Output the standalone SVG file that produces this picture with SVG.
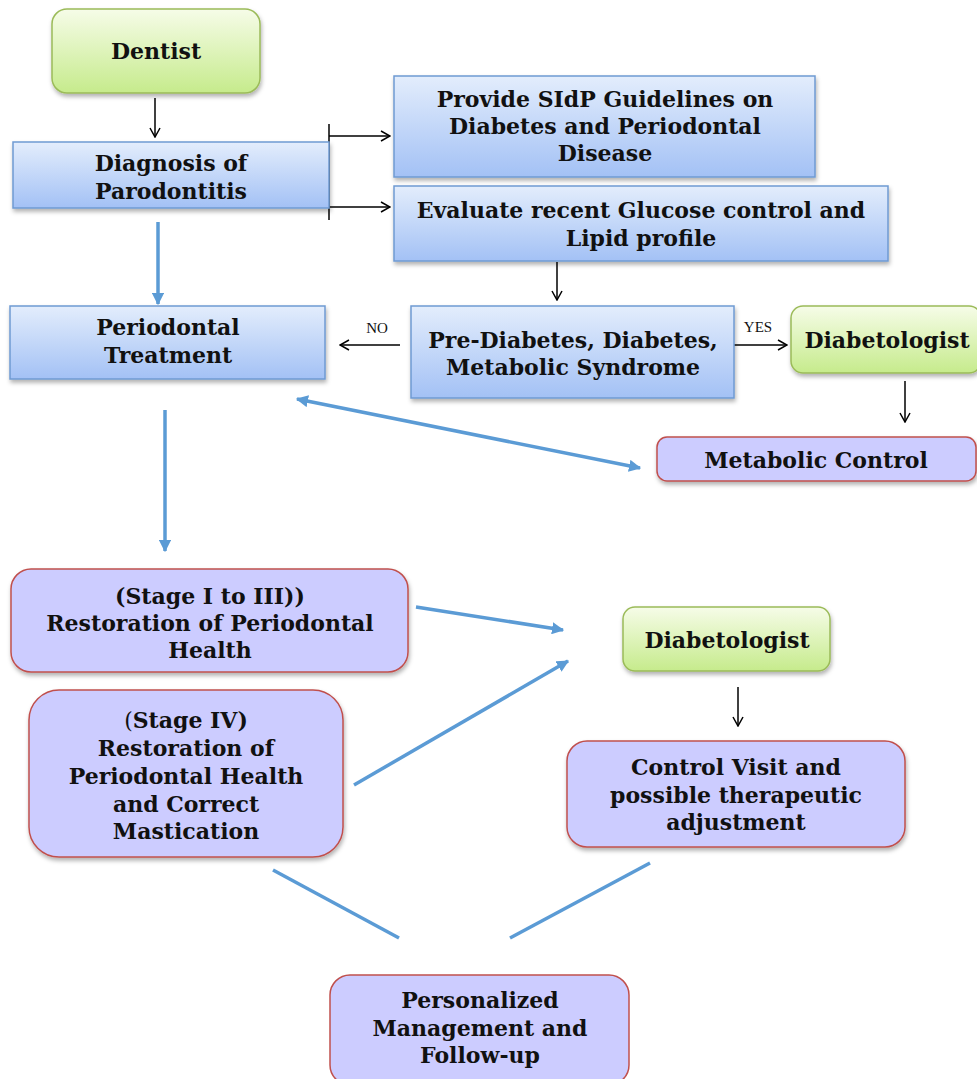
<svg xmlns="http://www.w3.org/2000/svg" width="977" height="1079" viewBox="0 0 977 1079">
<style>
.t{font-family:"DejaVu Serif","Liberation Serif",serif;font-weight:bold;font-size:22px;fill:#111;text-anchor:middle}
.lbl{font-family:"Liberation Serif",serif;font-size:15px;fill:#111;text-anchor:middle}
.blue{fill:url(#gb);stroke:#6f9ad2;stroke-width:1.5}
.green{fill:url(#gg);stroke:#9bbb59;stroke-width:1.5}
.purple{fill:#ccccff;stroke:#c0504d;stroke-width:1.5}
.k{stroke:#000;stroke-width:1.5;fill:none}
.b{stroke:#5b9bd5;stroke-width:3.5;fill:none}
</style>
<defs>
<linearGradient id="gb" x1="0" y1="0" x2="0" y2="1"><stop offset="0" stop-color="#e3edfc"/><stop offset="1" stop-color="#a3c1f5"/></linearGradient>
<linearGradient id="gg" x1="0" y1="0" x2="0" y2="1"><stop offset="0" stop-color="#f6fce8"/><stop offset="1" stop-color="#c6eb8c"/></linearGradient>
<filter id="sh" x="-10%" y="-10%" width="120%" height="130%"><feDropShadow dx="1" dy="3" stdDeviation="2" flood-color="#000" flood-opacity="0.3"/></filter>
<marker id="ak" viewBox="0 0 12 12" refX="11" refY="6" markerWidth="12" markerHeight="12" markerUnits="userSpaceOnUse" orient="auto"><path d="M2,1 L11,6 L2,11" fill="none" stroke="#000" stroke-width="1.5"/></marker>
<marker id="ab" viewBox="0 0 10 10" refX="9" refY="5" markerWidth="3.5" markerHeight="3.5" orient="auto-start-reverse"><path d="M0,0 L10,5 L0,10 z" fill="#5b9bd5"/></marker>
</defs>
<g id="connectors">
<line class="k" x1="155" y1="98" x2="155" y2="137" marker-end="url(#ak)"/>
<line class="k" x1="329" y1="124" x2="329" y2="220"/>
<line class="k" x1="329" y1="136" x2="390" y2="136" marker-end="url(#ak)"/>
<line class="k" x1="329" y1="207" x2="390" y2="207" marker-end="url(#ak)"/>
<line class="k" x1="557" y1="262" x2="557" y2="300" marker-end="url(#ak)"/>
<line class="k" x1="400" y1="345" x2="340" y2="345" marker-end="url(#ak)"/>
<line class="k" x1="734" y1="345" x2="787" y2="345" marker-end="url(#ak)"/>
<line class="k" x1="905" y1="381" x2="905" y2="422" marker-end="url(#ak)"/>
<line class="k" x1="738" y1="687" x2="738" y2="726" marker-end="url(#ak)"/>
<text class="lbl" x="377" y="333">NO</text>
<text class="lbl" x="758" y="332">YES</text>
<line class="b" x1="158" y1="222" x2="158" y2="304" marker-end="url(#ab)"/>
<line class="b" x1="297" y1="399" x2="640" y2="468" marker-start="url(#ab)" marker-end="url(#ab)"/>
<line class="b" x1="165" y1="410" x2="165" y2="551" marker-end="url(#ab)"/>
<line class="b" x1="416" y1="607" x2="563" y2="630" marker-end="url(#ab)"/>
<line class="b" x1="354" y1="785" x2="568" y2="661" marker-end="url(#ab)"/>
<line class="b" x1="273" y1="870" x2="399" y2="938"/>
<line class="b" x1="650" y1="863" x2="510" y2="938"/>
</g>
<g id="dentist"><rect class="green" x="52" y="9" width="208" height="84" rx="15" filter="url(#sh)"/><text class="t" x="156" y="59" font-size="23">Dentist</text></g>
<g id="diagnosis"><rect class="blue" x="13" y="142" width="316" height="66" filter="url(#sh)"/><text class="t" x="171" y="171">Diagnosis of</text><text class="t" x="171" y="199">Parodontitis</text></g>
<g id="guidelines"><rect class="blue" x="394" y="76" width="421" height="101" filter="url(#sh)"/><text class="t" x="605" y="107">Provide SIdP Guidelines on</text><text class="t" x="605" y="134">Diabetes and Periodontal</text><text class="t" x="605" y="161">Disease</text></g>
<g id="evaluate"><rect class="blue" x="394" y="186" width="494" height="75" filter="url(#sh)"/><text class="t" x="641" y="218">Evaluate recent Glucose control and</text><text class="t" x="641" y="246">Lipid profile</text></g>
<g id="periodontal-treatment"><rect class="blue" x="10" y="306" width="315" height="73" filter="url(#sh)"/><text class="t" x="168" y="335">Periodontal</text><text class="t" x="168" y="363">Treatment</text></g>
<g id="prediabetes"><rect class="blue" x="411" y="306" width="323" height="92" filter="url(#sh)"/><text class="t" x="573" y="348">Pre-Diabetes, Diabetes,</text><text class="t" x="573" y="375">Metabolic Syndrome</text></g>
<g id="diabetologist-top"><rect class="green" x="791" y="306" width="190" height="67" rx="12" filter="url(#sh)"/><text class="t" x="887" y="348">Diabetologist</text></g>
<g id="metabolic-control"><rect class="purple" x="657" y="437" width="319" height="44" rx="10" filter="url(#sh)"/><text class="t" x="816" y="468">Metabolic Control</text></g>
<g id="stage-1-3"><rect class="purple" x="11" y="569" width="397" height="103" rx="20" filter="url(#sh)"/><text class="t" x="210" y="604">(Stage I to III))</text><text class="t" x="210" y="631">Restoration of Periodontal</text><text class="t" x="210" y="658">Health</text></g>
<g id="diabetologist-bottom"><rect class="green" x="623" y="607" width="207" height="64" rx="12" filter="url(#sh)"/><text class="t" x="727" y="648">Diabetologist</text></g>
<g id="stage-4"><rect class="purple" x="29" y="690" width="314" height="167" rx="30" filter="url(#sh)"/><text class="t" x="186" y="728"><tspan font-weight="normal">(</tspan>Stage IV)</text><text class="t" x="186" y="756">Restoration of</text><text class="t" x="186" y="784">Periodontal Health</text><text class="t" x="186" y="812">and Correct</text><text class="t" x="186" y="839">Mastication</text></g>
<g id="control-visit"><rect class="purple" x="567" y="741" width="338" height="106" rx="20" filter="url(#sh)"/><text class="t" x="736" y="775">Control Visit and</text><text class="t" x="736" y="803">possible therapeutic</text><text class="t" x="736" y="830">adjustment</text></g>
<g id="personalized"><rect class="purple" x="330" y="975" width="299" height="110" rx="20"/><text class="t" x="480" y="1008">Personalized</text><text class="t" x="480" y="1036">Management and</text><text class="t" x="480" y="1063">Follow-up</text></g>
</svg>
